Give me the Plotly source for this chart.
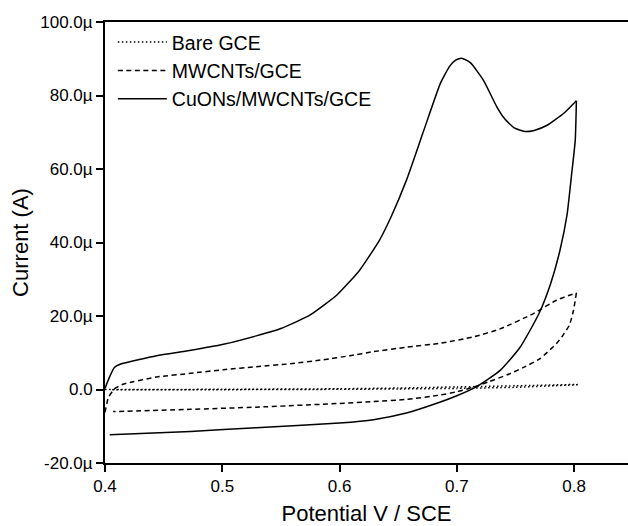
import plotly.graph_objects as go

# ---- data (potential in V, current in µA) ----
bare_fwd_x = [0.400, 0.500, 0.600, 0.650, 0.700, 0.750, 0.803]
bare_fwd_y = [0.0, 0.05, 0.2, 0.4, 0.7, 1.0, 1.4]
bare_rev_x = [0.803, 0.750, 0.700, 0.650, 0.600, 0.500, 0.405]
bare_rev_y = [1.3, 0.6, 0.3, 0.15, 0.05, -0.05, -0.1]

mw_fwd_x = [0.400, 0.403, 0.4085, 0.416, 0.444, 0.473, 0.501, 0.529, 0.558, 0.586,
            0.609, 0.629, 0.657, 0.686, 0.714, 0.737, 0.765, 0.785, 0.802]
mw_fwd_y = [-6.2, -2.1, 0.3, 1.5, 3.4, 4.4, 5.4, 6.2, 7.0, 8.1,
            9.2, 10.3, 11.5, 12.6, 14.3, 16.5, 20.6, 24.3, 26.3]
mw_rev_x = [0.802, 0.7995, 0.796, 0.790, 0.785, 0.771, 0.757, 0.743, 0.728, 0.714,
            0.700, 0.686, 0.657, 0.629, 0.600, 0.529, 0.473, 0.407]
mw_rev_y = [26.3, 21.5, 17.5, 14.5, 12.5, 8.4, 6.0, 4.0, 2.2, 0.6,
            -0.6, -1.5, -2.7, -3.3, -3.8, -4.8, -5.4, -6.0]

cu_fwd_x = [0.400, 0.404, 0.408, 0.414, 0.444, 0.472, 0.501, 0.529, 0.550, 0.575,
            0.598, 0.617, 0.634, 0.644, 0.657, 0.671, 0.686, 0.694, 0.699, 0.703,
            0.707, 0.712, 0.723, 0.734, 0.741, 0.749, 0.758, 0.766, 0.777, 0.791, 0.802]
cu_fwd_y = [0.3, 3.5, 6.0, 7.0, 9.2, 10.6, 12.3, 14.6, 16.6, 20.3,
            25.8, 32.4, 40.6, 47.0, 56.9, 69.7, 83.3, 88.0, 89.6, 90.1,
            89.8, 88.8, 84.0, 77.0, 73.6, 71.2, 70.2, 70.5, 71.9, 75.1, 78.6]
cu_rev_x = [0.802, 0.801, 0.798, 0.794, 0.788, 0.780, 0.770, 0.754, 0.737, 0.717,
            0.700, 0.686, 0.657, 0.629, 0.600, 0.529, 0.473, 0.404]
cu_rev_y = [78.6, 67.8, 58.8, 47.5, 37.9, 28.8, 20.6, 11.5, 5.2, 0.8,
            -1.7, -3.4, -6.4, -8.2, -9.1, -10.4, -11.4, -12.3]

series_names = ["Bare GCE", "MWCNTs/GCE", "CuONs/MWCNTs/GCE"]
x_ticks = [0.4, 0.5, 0.6, 0.7, 0.8]
y_ticks = [-20, 0, 20, 40, 60, 80, 100]
y_tick_labels = ["-20.0µ", "0.0", "20.0µ", "40.0µ", "60.0µ", "80.0µ", "100.0µ"]

FONT = "Liberation Sans, Arial, sans-serif"
fig = go.Figure()

series = [
    (series_names[0], bare_fwd_x, bare_fwd_y, bare_rev_x, bare_rev_y, "1.5px,2.5px"),
    (series_names[1], mw_fwd_x, mw_fwd_y, mw_rev_x, mw_rev_y, "5px,3.5px"),
    (series_names[2], cu_fwd_x, cu_fwd_y, cu_rev_x, cu_rev_y, "solid"),
]
for name, fx, fy, rx, ry, dash in series:
    for i, (xx, yy) in enumerate([(fx, fy), (rx, ry)]):
        fig.add_trace(go.Scatter(
            x=xx, y=yy, mode="lines", name=name, legendgroup=name,
            showlegend=(i == 0),
            line=dict(color="black", width=1.5, dash=dash, shape="spline", smoothing=0.5),
        ))

fig.update_layout(
    width=628, height=526,
    margin=dict(l=105, r=0, t=22, b=63),
    paper_bgcolor="white", plot_bgcolor="white",
    font=dict(family=FONT, color="black"),
    showlegend=True,
    legend=dict(x=0.015, y=0.998, xanchor="left", yanchor="top",
                font=dict(size=19.5, family=FONT), bgcolor="rgba(0,0,0,0)",
                itemwidth=49, tracegroupgap=0),
    xaxis=dict(
        range=[0.4, 0.846], tickvals=x_ticks, ticktext=[str(v) for v in x_ticks],
        showline=True, linecolor="black", linewidth=2, mirror=True,
        ticks="outside", ticklen=7, tickwidth=2, tickcolor="black",
        showgrid=False, zeroline=False,
        tickfont=dict(size=17, family=FONT),
        title=dict(text="Potential V / SCE", font=dict(size=22, family=FONT), standoff=12),
    ),
    yaxis=dict(
        range=[-20, 100], tickvals=y_ticks, ticktext=y_tick_labels,
        showline=True, linecolor="black", linewidth=2, mirror=False,
        ticks="outside", ticklen=7, tickwidth=2, tickcolor="black",
        showgrid=False, zeroline=False,
        tickfont=dict(size=17, family=FONT),
        title=dict(text="Current (A)", font=dict(size=22, family=FONT), standoff=6),
    ),
)

fig.write_html("out.html")
